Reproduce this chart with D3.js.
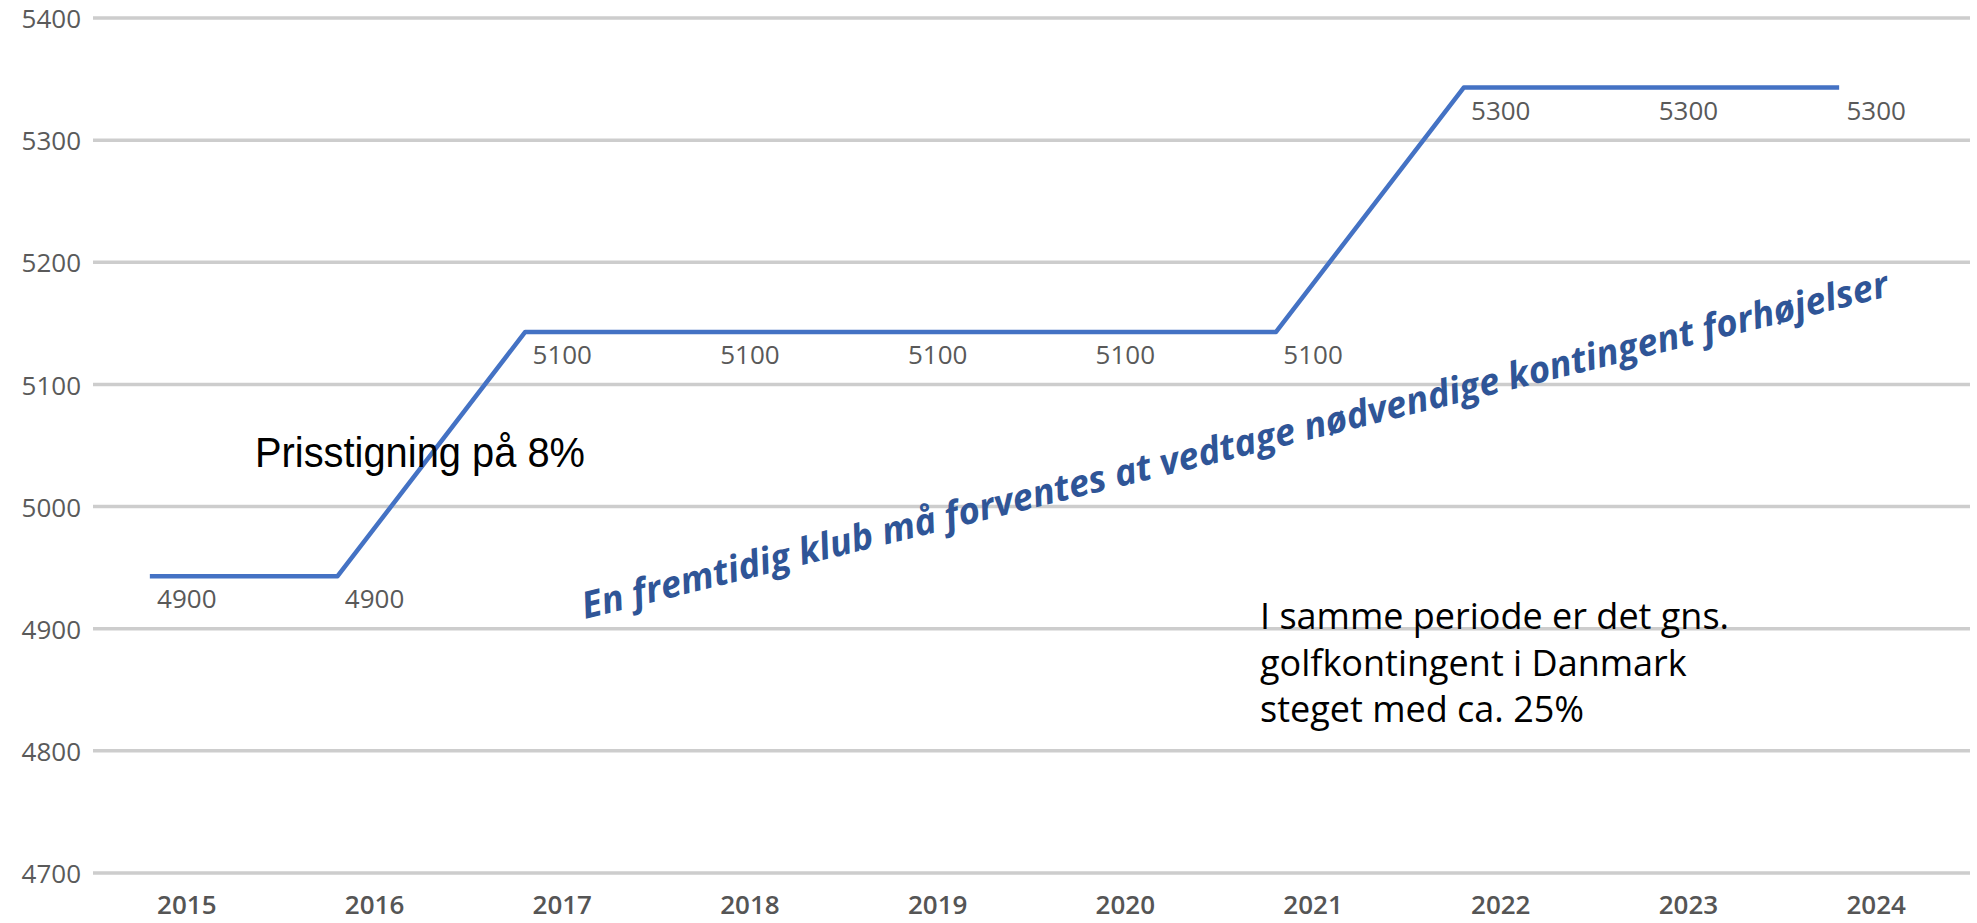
<!DOCTYPE html>
<html>
<head>
<meta charset="utf-8">
<script src="https://cdn.jsdelivr.net/npm/d3@7"></script>
<style>
  body { margin: 0; background: #fff; }
  svg { display: block; }
</style>
</head>
<body>
<div id="chart"></div>
<script>
// chart data
const years = ["2015", "2016", "2017", "2018", "2019", "2020", "2021", "2022", "2023", "2024"];
const labelValues = [4900, 4900, 5100, 5100, 5100, 5100, 5100, 5300, 5300, 5300];
// the drawn line sits a bit above its own labels in the picture
const lineValues = [4943, 4943, 5143, 5143, 5143, 5143, 5143, 5343, 5343, 5343];
const yTicks = [4700, 4800, 4900, 5000, 5100, 5200, 5300, 5400];

const noteLeft = "Prisstigning på 8%";
const noteSlanted = "En fremtidig klub må forventes at vedtage nødvendige kontingent forhøjelser";
const noteRight = ["I samme periode er det gns.", "golfkontingent i Danmark", "steget med ca. 25%"];

function createChart() {
  const W = 1977, H = 923;
  const margin = { top: 18, right: 7, bottom: 50, left: 93 };

  const svg = d3.select("#chart")
    .append("svg")
    .attr("width", W)
    .attr("height", H);

  const x = d3.scaleBand()
    .domain(years)
    .range([margin.left, W - margin.right])
    .padding(0);

  const y = d3.scaleLinear()
    .domain([4700, 5400])
    .range([H - margin.bottom, margin.top]);

  const cx = d => x(d) + x.bandwidth() / 2;

  // gridlines
  svg.append("g")
    .selectAll("line")
    .data(yTicks)
    .join("line")
    .attr("x1", margin.left)
    .attr("x2", W - margin.right)
    .attr("y1", d => y(d))
    .attr("y2", d => y(d))
    .attr("stroke", "#cdcdcd")
    .attr("stroke-width", 3.5);

  // y axis labels
  svg.append("g")
    .selectAll("text")
    .data(yTicks)
    .join("text")
    .attr("x", 81)
    .attr("y", d => y(d) + 1)
    .attr("dy", "0.35em")
    .attr("text-anchor", "end")
    .attr("font-family", "Open Sans")
    .attr("font-size", 26)
    .attr("fill", "#5a5a5a")
    .text(d => d);

  // x axis labels
  svg.append("g")
    .selectAll("text")
    .data(years)
    .join("text")
    .attr("x", d => cx(d))
    .attr("y", 905)
    .attr("dy", "0.35em")
    .attr("text-anchor", "middle")
    .attr("font-family", "Open Sans")
    .attr("font-weight", 600)
    .attr("font-size", 26)
    .attr("fill", "#555")
    .text(d => d);

  // line (shifted left of the category centres, as in the picture)
  const pts = years.map((d, i) => ({ year: d, value: lineValues[i], label: labelValues[i] }));
  const line = d3.line()
    .x(d => cx(d.year) - 37)
    .y(d => y(d.value));

  svg.append("path")
    .datum(pts)
    .attr("fill", "none")
    .attr("stroke", "#4472c4")
    .attr("stroke-width", 4.5)
    .attr("stroke-linejoin", "round")
    .attr("d", line);

  // data labels
  svg.append("g")
    .selectAll("text")
    .data(pts)
    .join("text")
    .attr("x", d => cx(d.year))
    .attr("y", d => y(d.value) + 23)
    .attr("dy", "0.35em")
    .attr("text-anchor", "middle")
    .attr("font-family", "Open Sans")
    .attr("font-size", 26)
    .attr("fill", "#595959")
    .text(d => d.label);

  // annotations
  svg.append("text")
    .attr("x", 255)
    .attr("y", 467)
    .attr("font-family", "Liberation Sans")
    .attr("font-size", 42)
    .attr("textLength", 330)
    .attr("lengthAdjust", "spacingAndGlyphs")
    .attr("fill", "#000")
    .text(noteLeft);

  svg.append("text")
    .attr("transform", "translate(585,619) rotate(-13.9)")
    .attr("font-family", "Open Sans")
    .attr("font-style", "italic")
    .attr("font-weight", 700)
    .attr("font-size", 37)
    .attr("textLength", 1345)
    .attr("lengthAdjust", "spacingAndGlyphs")
    .attr("fill", "#2f5597")
    .text(noteSlanted);

  svg.append("g")
    .selectAll("text")
    .data(noteRight)
    .join("text")
    .attr("x", 1260)
    .attr("y", (d, i) => 629 + i * 46.5)
    .attr("font-family", "Open Sans")
    .attr("font-size", 36)
    .attr("fill", "#000")
    .text(d => d);
}

window.addEventListener("load", createChart);
</script>
</body>
</html>
